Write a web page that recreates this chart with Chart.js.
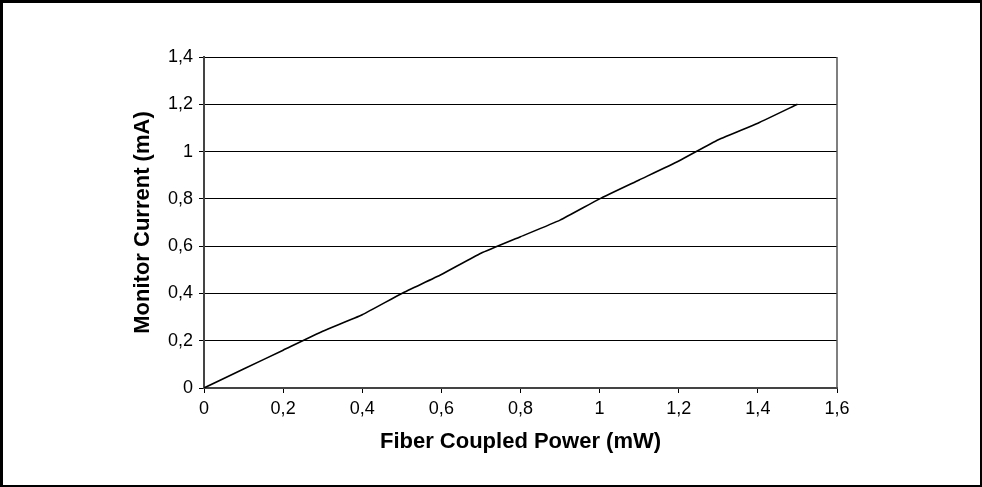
<!DOCTYPE html>
<html>
<head>
<meta charset="utf-8">
<script src="https://cdn.jsdelivr.net/npm/chart.js@4/dist/chart.umd.min.js"></script>
<style>
  html, body { margin: 0; padding: 0; background: #fff; }
  #wrap { position: relative; width: 982px; height: 487px; }
  #c { position: absolute; left: 0; top: 0; }
  #frame { position: absolute; left: 0; top: 0; width: 982px; height: 487px; box-sizing: border-box;
           border-style: solid; border-color: #000; border-width: 3px 2px 2px 3px; pointer-events: none; }
</style>
</head>
<body>
<div id="wrap">
  <canvas id="c" width="982" height="487"></canvas>
  <div id="frame"></div>
</div>
<script>
// Data
const powerValues = [0, 0.1, 0.2, 0.3, 0.4, 0.5, 0.6, 0.7, 0.8, 0.9, 1.0, 1.1, 1.2, 1.3, 1.4, 1.5];
const currentValues = [0, 0.08, 0.16, 0.24, 0.31, 0.40, 0.48, 0.57, 0.64, 0.71, 0.80, 0.88, 0.96, 1.05, 1.12, 1.20];
const xTickLabels = ['0', '0,2', '0,4', '0,6', '0,8', '1', '1,2', '1,4', '1,6'];
const yTickLabels = ['0', '0,2', '0,4', '0,6', '0,8', '1', '1,2', '1,4'];
const xTitle = 'Fiber Coupled Power (mW)';
const yTitle = 'Monitor Current (mA)';

const points = powerValues.map((x, i) => ({ x: x, y: currentValues[i] }));
const FONT = '"Liberation Sans", Arial, sans-serif';

const plotFrame = {
  id: 'plotFrame',
  afterDraw(chart) {
    const { ctx, chartArea: a } = chart;
    ctx.save();
    ctx.strokeStyle = '#555';
    ctx.lineWidth = 1.5;
    ctx.beginPath();
    ctx.moveTo(a.right, a.top);
    ctx.lineTo(a.right, a.bottom);
    ctx.stroke();
    ctx.restore();
  }
};

new Chart(document.getElementById('c'), {
  type: 'scatter',
  data: {
    datasets: [{
      data: points,
      showLine: true,
      borderColor: '#000',
      borderWidth: 1.6,
      pointRadius: 0,
      tension: 0.15,
      fill: false
    }]
  },
  options: {
    responsive: false,
    animation: false,
    devicePixelRatio: 1,
    layout: { padding: { left: 0, top: 57, right: 145, bottom: 0 } },
    plugins: { legend: { display: false }, tooltip: { enabled: false } },
    scales: {
      x: {
        type: 'linear',
        min: 0, max: 1.6,
        ticks: {
          stepSize: 0.2,
          color: '#000',
          font: { family: FONT, size: 18 },
          padding: 5,
          maxRotation: 0,
          callback: (v, i) => xTickLabels[i]
        },
        grid: { drawOnChartArea: false, drawTicks: true, tickLength: 5, color: '#000', lineWidth: 1 },
        border: { display: true, color: '#444', width: 2 },
        title: {
          display: true, text: xTitle, color: '#000',
          font: { family: FONT, size: 22, weight: 'bold' },
          padding: { top: 0, bottom: 32 }
        },
        afterFit: (s) => { s.height = 99; }
      },
      y: {
        type: 'linear',
        min: 0, max: 1.4,
        ticks: {
          stepSize: 0.2,
          color: '#000',
          font: { family: FONT, size: 18 },
          padding: 6,
          callback: (v, i) => yTickLabels[i]
        },
        grid: { drawOnChartArea: true, drawTicks: true, tickLength: 5, color: '#000', lineWidth: 1 },
        border: { display: true, color: '#444', width: 2 },
        title: {
          display: true, text: yTitle, color: '#000',
          font: { family: FONT, size: 22, weight: 'bold' },
          padding: { top: 130, bottom: 0 }
        },
        afterFit: (s) => { s.width = 204; }
      }
    }
  },
  plugins: [plotFrame]
});
</script>
</body>
</html>
